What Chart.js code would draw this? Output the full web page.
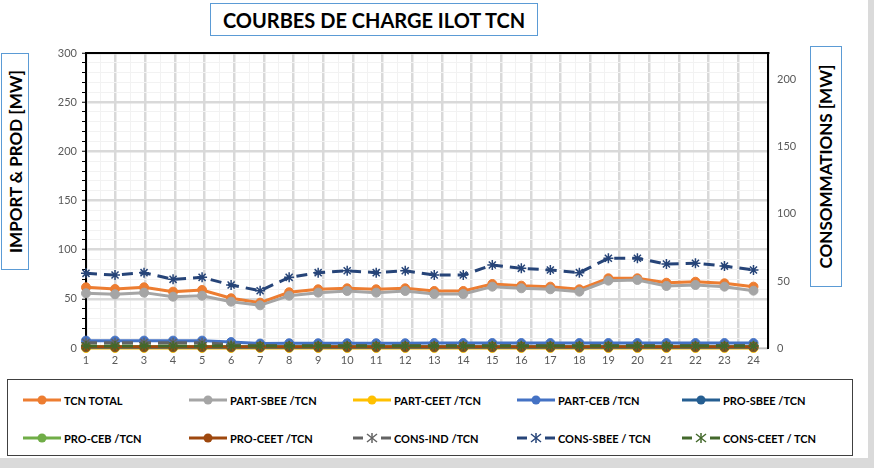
<!DOCTYPE html>
<html>
<head>
<meta charset="utf-8">
<script src="https://cdn.jsdelivr.net/npm/chart.js@4.4.1/dist/chart.umd.min.js"></script>
<style>
body { margin: 0; background: #dadada; font-family: Lato, 'Open Sans', sans-serif; }
#page { position: absolute; left: 0; top: 0; width: 868px; height: 458px; background: #fff; }
.box { position: absolute; border: 1px solid #5b9bd5; box-sizing: border-box; display: flex; align-items: center; justify-content: center; font-weight: bold; color: #000; }
#title { left: 210px; top: 3px; width: 328px; height: 33px; font-size: 20px; }
.vert span { transform: rotate(-90deg); white-space: nowrap; }
#ytitle { left: 1px; top: 53px; width: 28px; height: 217px; font-size: 17px; }
#y2title { left: 810px; top: 46px; width: 32px; height: 241px; font-size: 17px; }
#chartwrap { position: absolute; left: 0; top: 0; width: 874px; height: 372px; }
#legend { position: absolute; left: 7px; top: 379px; width: 846px; height: 77px; border: 1px solid #404040; box-sizing: border-box; }
.item { position: absolute; display: flex; align-items: center; font-size: 11px; font-weight: bold; white-space: nowrap; height: 14px; color: #000; }
.item svg { margin-right: 3px; }
</style>
</head>
<body>
<div id="page">
  <div id="title" class="box">COURBES DE CHARGE ILOT TCN</div>
  <div id="ytitle" class="box vert"><span>IMPORT &amp; PROD [MW]</span></div>
  <div id="y2title" class="box vert"><span>CONSOMMATIONS [MW]</span></div>
  <div id="legend"></div>
</div>
<div id="chartwrap"><canvas id="chart"></canvas></div>
<script>
// Hours of the day
const hours = [1, 2, 3, 4, 5, 6, 7, 8, 9, 10, 11, 12, 13, 14, 15, 16, 17, 18, 19, 20, 21, 22, 23, 24];

// Left axis (import & prod, MW)
const tcnTotal = [61.7, 60, 61.7, 57.3, 59, 50.6, 46.1, 56.7, 59.7, 60.7, 59.7, 60.7, 58, 58, 65.1, 63.4, 62.4, 59.7, 70.9, 70.9, 66.4, 67.4, 65.8, 62.4];
const partSbee = [55.6, 54.6, 56.3, 52.2, 53.2, 47.1, 43.4, 53.2, 56.3, 58, 56.3, 58, 54.9, 54.9, 62.4, 60.7, 59.7, 57.3, 68.5, 69.2, 63.1, 64.1, 62.4, 58.3];
const partCeet = [0, 0, 0, 0, 0, 0, 0, 0, 0, 0, 0, 0, 0, 0, 0, 0, 0, 0, 0, 0, 0, 0, 0, 0];
const partCeb = [7.5, 7.5, 7.5, 7.5, 7.5, 6, 4.5, 4.8, 4.8, 4.8, 4.8, 4.8, 5, 5, 5, 5, 5, 5, 5, 5, 5, 5, 5, 5];
const proSbee = [0.8, 0.8, 0.8, 0.8, 0.8, 0.8, 0.8, 0.8, 0.8, 0.8, 0.8, 0.8, 0.8, 0.8, 0.8, 0.8, 0.8, 0.8, 0.8, 0.8, 0.8, 0.8, 0.8, 0.8];
const proCeb = [1.5, 1.5, 1.5, 1.5, 1.5, 1.5, 1.5, 1.5, 1.5, 1.5, 1.5, 1.5, 1.5, 1.5, 1.5, 1.5, 1.5, 1.5, 1.5, 1.5, 1.5, 1.5, 1.5, 1.5];
const proCeet = [1.2, 1.2, 1.2, 1.2, 1.2, 1.2, 1.2, 1.2, 1.2, 1.2, 1.2, 1.2, 1.2, 1.2, 1.2, 1.2, 1.2, 1.2, 1.2, 1.2, 1.2, 1.2, 1.2, 1.2];

// Right axis (consommations, MW)
const consInd = [4, 4, 4, 4, 4, 2.5, 1.8, 1.8, 1.8, 1.8, 1.8, 1.8, 1.8, 1.8, 1.8, 1.8, 1.8, 1.8, 1.8, 1.8, 1.8, 1.8, 1.8, 1.8];
const consSbee = [55.7, 54.4, 56.2, 51.2, 52.7, 47, 42.7, 52.7, 56.2, 57.6, 56.2, 57.6, 54.4, 54.4, 61.9, 59.4, 58.2, 56.2, 66.9, 66.9, 62.6, 63.2, 61.1, 58.2];
const consCeet = [1.5, 1.5, 1.5, 1.5, 1.5, 1.5, 1.5, 1.5, 1.5, 1.5, 1.5, 1.5, 1.5, 1.5, 1.5, 1.5, 1.5, 1.5, 1.5, 1.5, 1.5, 1.5, 1.5, 1.5];

const seriesNames = ['TCN TOTAL', 'PART-SBEE /TCN', 'PART-CEET /TCN', 'PART-CEB /TCN', 'PRO-SBEE /TCN',
                     'PRO-CEB /TCN', 'PRO-CEET /TCN', 'CONS-IND /TCN', 'CONS-SBEE / TCN', 'CONS-CEET / TCN'];
const seriesValues = [tcnTotal, partSbee, partCeet, partCeb, proSbee, proCeb, proCeet, consInd, consSbee, consCeet];
const seriesAxis = ['y', 'y', 'y', 'y', 'y', 'y', 'y', 'y2', 'y2', 'y2'];

// styles
const colors = ['#ed7d31', '#a5a5a5', '#ffc000', '#4472c4', '#255e91', '#70ad47', '#9e480e', '#636363', '#264478', '#43682b'];
const isCons = (i) => seriesAxis[i] === 'y2';

const datasets = seriesNames.map((name, i) => ({
    label: name,
    data: seriesValues[i].map((v, k) => ({x: hours[k], y: v})),
    yAxisID: seriesAxis[i],
    xAxisID: 'x',
    borderColor: colors[i],
    backgroundColor: colors[i],
    borderWidth: 3,
    borderDash: isCons(i) ? [11, 7] : [],
    pointStyle: isCons(i) ? 'star' : 'circle',
    pointRadius: isCons(i) ? 5 : 4.5,
    pointBorderWidth: isCons(i) ? 1.5 : 1,
    pointBackgroundColor: colors[i],
    pointBorderColor: colors[i],
    tension: 0,
    clip: false,
    order: 20 - i   // last series drawn on top, like the original
}));

const tickFont = {family: "Lato, 'Open Sans', sans-serif", size: 11};

new Chart(document.getElementById('chart'), {
    type: 'line',
    data: {datasets},
    options: {
        responsive: true,
        maintainAspectRatio: false,
        animation: false,
        layout: {padding: {left: 46, right: 66, top: 53, bottom: 4}},
        plugins: {legend: {display: false}, tooltip: {enabled: false}},
        scales: {
            x: {
                type: 'linear', position: 'bottom', min: 1, max: 24.5,
                afterFit: (s) => { s.height = 20; },
                afterBuildTicks: (s) => { s.ticks = hours.map((h) => ({value: h})); },
                grid: {display: false, drawTicks: false},
                border: {display: true, color: '#bfbfbf', width: 1},
                ticks: {padding: 6, color: '#595959', font: tickFont, maxRotation: 0, autoSkip: false}
            },
            x2: {
                type: 'linear', position: 'top', min: 0, max: 23,
                afterFit: (s) => { s.height = 0; },
                ticks: {display: false, stepSize: 0.5, autoSkip: false},
                grid: {
                    drawTicks: false,
                    color: (c) => (c.tick && Number.isInteger(c.tick.value)) ? '#d9d9d9' : '#f2f2f2',
                    lineWidth: (c) => (c.tick && Number.isInteger(c.tick.value)) ? 2.5 : 1
                },
                border: {display: true, color: '#000', width: 2}
            },
            y: {
                type: 'linear', position: 'left', min: 0, max: 300,
                afterFit: (s) => { s.width = 40; },
                ticks: {
                    stepSize: 10, padding: 5, color: '#595959', font: tickFont, autoSkip: false,
                    callback: (v) => v % 50 === 0 ? v : ''
                },
                grid: {
                    tickLength: 4, tickColor: '#000', tickWidth: 1,
                    color: (c) => (c.tick && c.tick.value % 50 === 0) ? '#d9d9d9' : '#f2f2f2',
                    lineWidth: (c) => (c.tick && c.tick.value % 50 === 0) ? 2.5 : 1
                },
                border: {display: true, color: '#000', width: 2}
            },
            y2: {
                type: 'linear', position: 'right', min: 0, max: 220,
                afterFit: (s) => { s.width = 40; },
                ticks: {
                    stepSize: 50, padding: 9, color: '#595959', font: tickFont, autoSkip: false,
                    callback: (v) => v % 50 === 0 ? v : ''
                },
                grid: {drawOnChartArea: false, drawTicks: false},
                border: {display: true, color: '#000', width: 2}
            }
        }
    }
});

// Legend built from the datasets (two rows of five)
const legendCols = [15, 181, 345, 509, 674];
const legendRows = [13, 51];
const legend = document.getElementById('legend');
datasets.forEach((ds, i) => {
    const item = document.createElement('div');
    item.className = 'item';
    item.style.left = legendCols[i % 5] + 'px';
    item.style.top = legendRows[Math.floor(i / 5)] + 'px';
    let svg;
    if (ds.pointStyle === 'star') {
        svg = `<svg width="38" height="14"><line x1="0" y1="7" x2="10" y2="7" stroke="${ds.borderColor}" stroke-width="3"/>` +
              `<line x1="28" y1="7" x2="38" y2="7" stroke="${ds.borderColor}" stroke-width="3"/>` +
              `<g stroke="${ds.borderColor}" stroke-width="1.5"><line x1="14" y1="3" x2="24" y2="11"/><line x1="14" y1="11" x2="24" y2="3"/>` +
              `<line x1="19" y1="2" x2="19" y2="12"/></g></svg>`;
    } else {
        svg = `<svg width="38" height="14"><line x1="0" y1="7" x2="38" y2="7" stroke="${ds.borderColor}" stroke-width="3"/>` +
              `<circle cx="19" cy="7" r="4.5" fill="${ds.borderColor}"/></svg>`;
    }
    item.innerHTML = svg + '<span>' + ds.label + '</span>';
    legend.appendChild(item);
});
</script>
</body>
</html>
